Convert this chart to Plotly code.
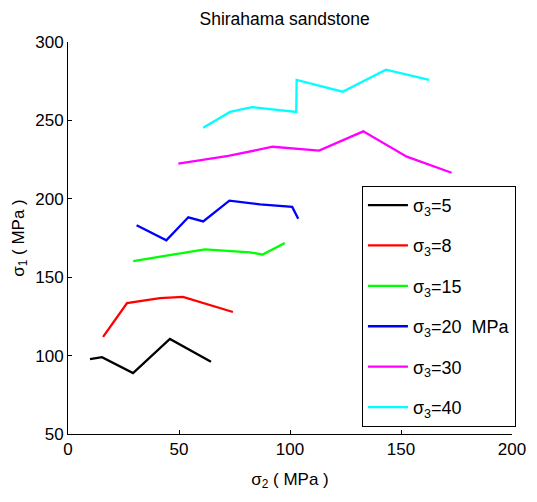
import plotly.graph_objects as go

sig2_5 = [9.9, 15.3, 29.3, 45.9, 64.4]
sig1_5 = [97.8, 99.0, 88.9, 110.6, 96.0]

sig2_8 = [15.8, 26.6, 41.4, 51.8, 74.3]
sig1_8 = [111.9, 133.5, 136.7, 137.4, 127.8]

sig2_15 = [29.4, 61.7, 82.0, 87.7, 97.7]
sig1_15 = [160.3, 167.8, 165.9, 164.4, 171.8]

sig2_20 = [30.9, 44.3, 54.2, 60.9, 72.7, 86.5, 101.0, 103.7]
sig1_20 = [183.1, 173.5, 188.2, 185.6, 198.8, 196.5, 194.8, 187.3]

sig2_30 = [49.7, 72.2, 92.2, 113.1, 133.0, 152.6, 172.8]
sig1_30 = [222.4, 227.3, 233.2, 230.7, 243.0, 226.9, 216.6]

sig2_40 = [60.9, 73.0, 82.8, 102.8, 103.0, 123.7, 143.2, 162.7]
sig1_40 = [245.3, 255.4, 258.5, 255.4, 275.8, 268.3, 282.3, 275.8]

series = [
    ("σ<sub>3</sub>=5", sig2_5, sig1_5, "#000000"),
    ("σ<sub>3</sub>=8", sig2_8, sig1_8, "#ff0000"),
    ("σ<sub>3</sub>=15", sig2_15, sig1_15, "#00ff00"),
    ("σ<sub>3</sub>=20&nbsp;&nbsp;MPa", sig2_20, sig1_20, "#0000ff"),
    ("σ<sub>3</sub>=30", sig2_30, sig1_30, "#ff00ff"),
    ("σ<sub>3</sub>=40", sig2_40, sig1_40, "#00ffff"),
]

FONT = "Liberation Sans, Arial, sans-serif"

fig = go.Figure()
for i, (name, xs, ys, col) in enumerate(series):
    fig.add_trace(go.Scatter(x=xs, y=ys, mode="lines", name=name,
                             legendgroup=f"g{i}",
                             line=dict(color=col, width=2.3)))

axis_common = dict(
    showgrid=False, zeroline=False, showline=True, linecolor="black", linewidth=1,
    ticks="inside", ticklen=4, tickcolor="black", mirror=False,
    tickfont=dict(family=FONT, size=17, color="black"),
)

fig.update_layout(
    width=537, height=502,
    margin=dict(l=68, r=25, t=42, b=68),
    plot_bgcolor="white", paper_bgcolor="white",
    title=dict(text="Shirahama sandstone", x=0.53, xanchor="center", y=0.962, yanchor="middle",
               font=dict(family=FONT, size=17.5, color="black")),
    xaxis=dict(range=[0, 200], tickvals=[0, 50, 100, 150, 200],
               title=dict(text="σ<sub>2</sub> ( MPa )", standoff=14,
                          font=dict(family=FONT, size=17, color="black")),
               **axis_common),
    yaxis=dict(range=[50, 300], tickvals=[50, 100, 150, 200, 250, 300],
               title=dict(text="σ<sub>1</sub> ( MPa )", standoff=6,
                          font=dict(family=FONT, size=17, color="black")),
               **axis_common),
    legend=dict(x=0.662, y=0.633, xanchor="left", yanchor="top",
                bordercolor="black", borderwidth=1, bgcolor="white",
                font=dict(family=FONT, size=18, color="black"),
                tracegroupgap=14, traceorder="grouped", itemwidth=40),
    showlegend=True,
)

fig.write_html("out.html")
